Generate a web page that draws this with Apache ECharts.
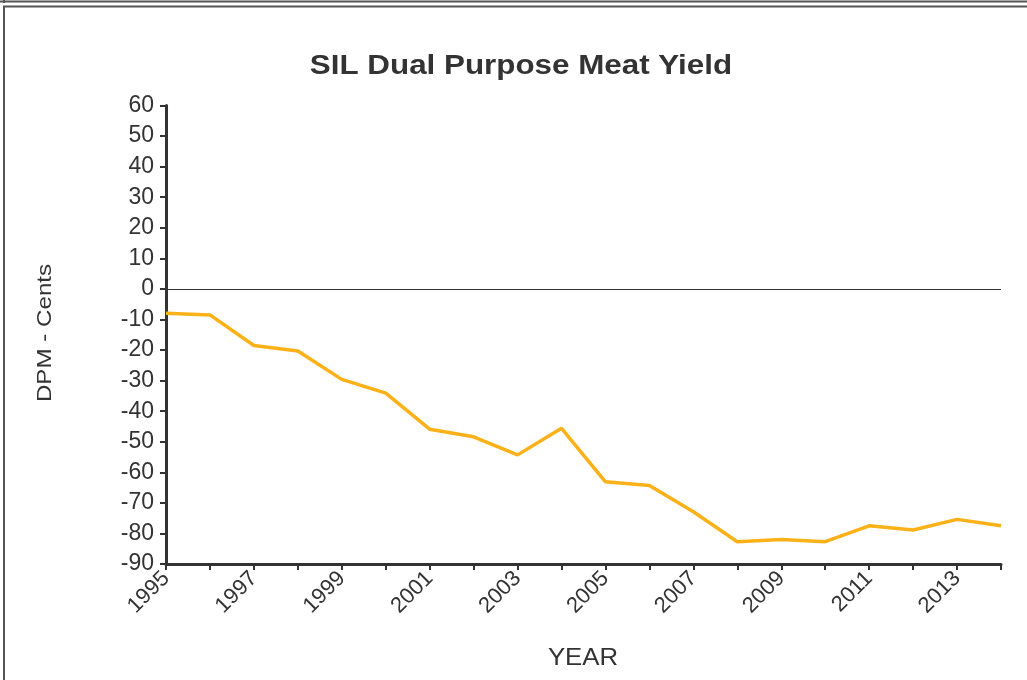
<!DOCTYPE html>
<html>
<head>
<meta charset="utf-8">
<script src="https://cdn.jsdelivr.net/npm/echarts@6/dist/echarts.min.js"></script>
<style>
html,body{margin:0;padding:0;background:#fff;}
#chart{width:1027px;height:680px;}
</style>
</head>
<body>
<div id="chart"></div>
<script>
const years = ['1995','1996','1997','1998','1999','2000','2001','2002','2003','2004','2005','2006','2007','2008','2009','2010','2011','2012','2013','2014'];
const dpmCents = [-8,-8.5,-18.5,-20.3,-29.6,-34.1,-45.9,-48.4,-54.3,-45.6,-63.1,-64.3,-72.9,-82.7,-82.0,-82.7,-77.5,-78.9,-75.4,-77.5];
const yMin = -90, yMax = 60, yStep = 10;
const titleText = 'SIL Dual Purpose Meat Yield';
const yName = 'DPM - Cents';
const xName = 'YEAR';

const chart = echarts.init(document.getElementById('chart'), null, {renderer:'canvas'});
const fontFam = 'Liberation Sans, Arial, sans-serif';
const txt = '#333';
chart.setOption({
  animation:false,
  backgroundColor:'#fff',
  graphic:[
    {type:'line', shape:{x1:0,y1:1.5,x2:1027,y2:1.5}, style:{stroke:'#555',lineWidth:2}},
    {type:'line', shape:{x1:4,y1:0,x2:4,y2:3}, style:{stroke:'#555',lineWidth:2}},
    {type:'line', shape:{x1:3,y1:6.5,x2:1027,y2:6.5}, style:{stroke:'#555',lineWidth:2}},
    {type:'line', shape:{x1:4,y1:6,x2:4,y2:680}, style:{stroke:'#555',lineWidth:2}},
    {type:'text', x:521, y:66, scaleX:1.12, style:{text:titleText, fontFamily:fontFam, fontWeight:'bold', fontSize:28, fill:txt, align:'center', verticalAlign:'middle'}},
    {type:'text', x:45, y:333, rotation:Math.PI/2, scaleX:1.15, style:{text:yName, fontFamily:fontFam, fontSize:21, fill:txt, align:'center', verticalAlign:'middle'}},
    {type:'text', x:583, y:659, scaleX:1.12, style:{text:xName, fontFamily:fontFam, fontSize:23, fill:txt, align:'center', verticalAlign:'middle'}}
  ],
  grid:{left:166, right:26, top:105.5, bottom:116, containLabel:false},
  xAxis:{
    type:'category', data:years, boundaryGap:false,
    axisLine:{onZero:false, lineStyle:{color:'#333', width:3}},
    axisTick:{show:true, interval:0, length:6, lineStyle:{color:'#333', width:2}},
    axisLabel:{interval:1, rotate:45, fontFamily:fontFam, fontSize:22, color:txt, margin:11},
    splitLine:{show:false}
  },
  yAxis:{
    type:'value', min:yMin, max:yMax, interval:yStep,
    axisLine:{show:true, lineStyle:{color:'#333', width:3}},
    axisTick:{show:true, length:6, lineStyle:{color:'#333', width:2}},
    axisLabel:{fontFamily:fontFam, fontSize:23, color:txt, margin:12},
    splitLine:{show:false}
  },
  series:[{
    type:'line', data:dpmCents, symbol:'none',
    lineStyle:{color:'#FBB117', width:3.5},
    markLine:{silent:true, symbol:'none', label:{show:false},
      lineStyle:{color:'#333', width:1.2, type:'solid'},
      data:[{yAxis:0}]}
  }]
});
</script>
</body>
</html>
